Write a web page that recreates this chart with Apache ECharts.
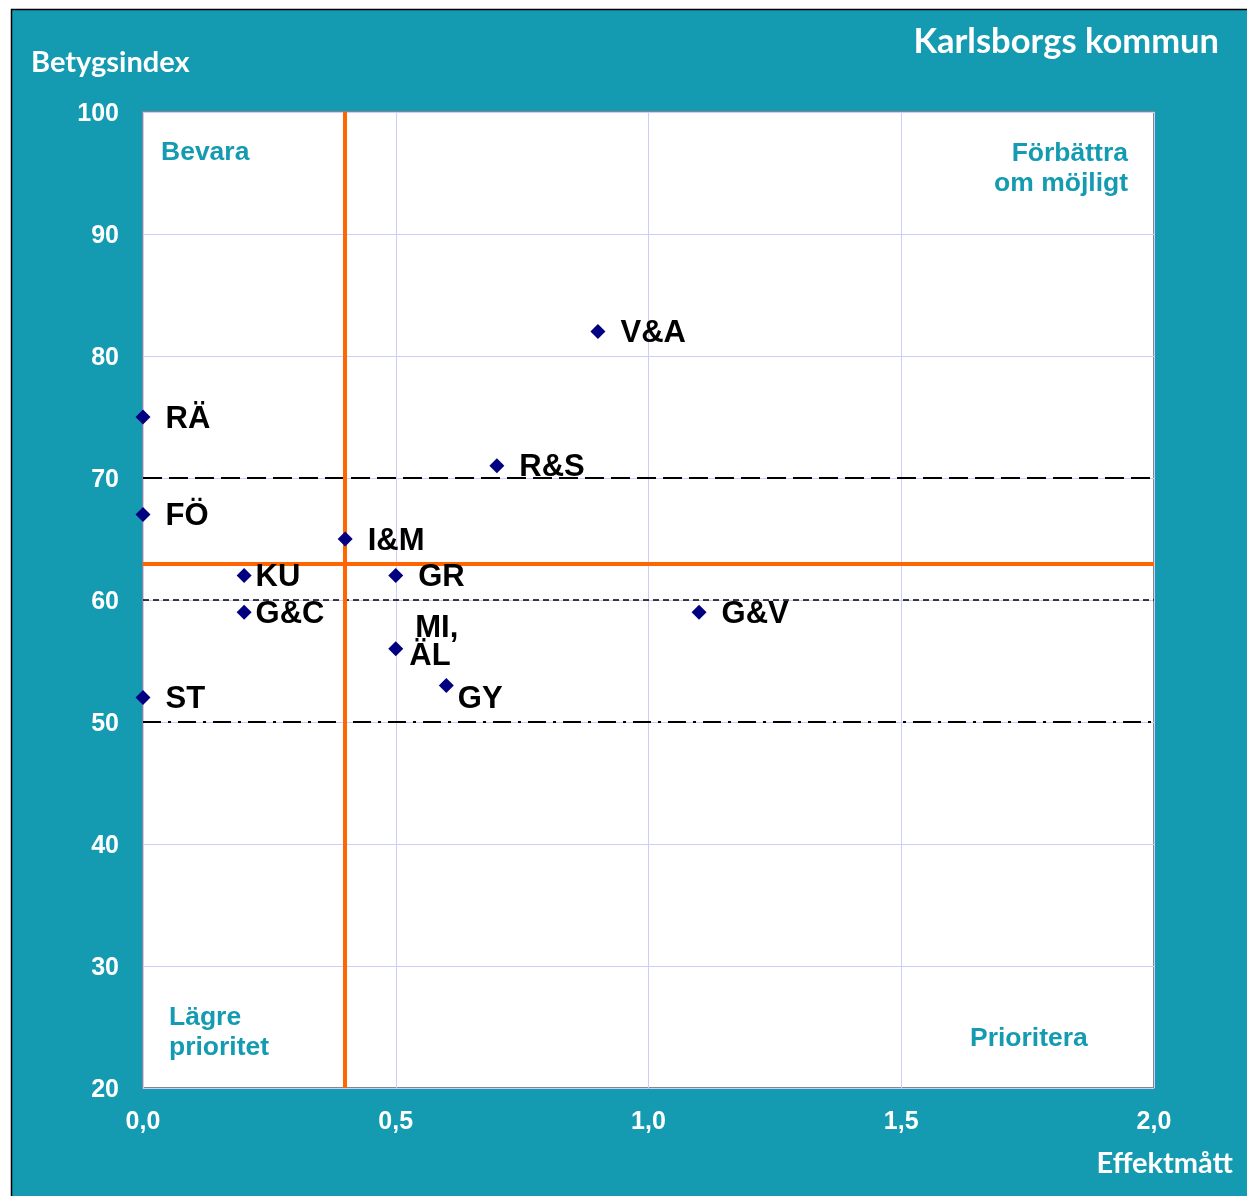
<!DOCTYPE html>
<html>
<head>
<meta charset="utf-8">
<script src="https://cdn.jsdelivr.net/npm/echarts@6/dist/echarts.min.js"></script>
<style>
html,body{margin:0;padding:0;background:#ffffff;}
#c{position:absolute;left:0;top:0;width:1247px;height:1196px;}
</style>
</head>
<body>
<div id="c"></div>
<script>
// ---- data ----
const names = ['RÄ','FÖ','ST','KU','G&C','I&M','GR','MI, ÄL','GY','R&S','V&A','G&V'];
const xValues = [0.0, 0.0, 0.0, 0.2, 0.2, 0.4, 0.5, 0.5, 0.6, 0.7, 0.9, 1.1];
const yValues = [75, 67, 52, 62, 59, 65, 62, 56, 53, 71, 82, 59];
const xTicks = [0, 0.5, 1.0, 1.5, 2.0];
const yTicks = [20, 30, 40, 50, 60, 70, 80, 90, 100];
const orangeX = 0.4;
const orangeY = 63;
const refLong = 70;
const refShort = 60;
const refDashDot = 50;
const titleText = 'Karlsborgs kommun';
const yAxisTitle = 'Betygsindex';
const xAxisTitle = 'Effektmått';
const quadrantTexts = ['Bevara', 'Förbättra', 'om möjligt', 'Lägre\nprioritet', 'Prioritera'];

// ---- style ----
const TEAL = '#149bb2';
const labelStyle = {}; // per-label tweaks
labelStyle['KU'] = {distance: 4};
labelStyle['G&C'] = {distance: 4};
labelStyle['GY'] = {distance: 4, offset: [0, 14]};
labelStyle['MI, ÄL'] = {distance: 6, offset: [0, -6],
  formatter: '{a|MI,}\n{b|ÄL}'};

const chart = echarts.init(document.getElementById('c'), null, {renderer: 'canvas'});

const pts = names.map((n, i) => {
  const ls = labelStyle[n] || {};
  const lab = {show: true, position: 'right', distance: ls.distance != null ? ls.distance : 15,
    formatter: ls.formatter || n, offset: ls.offset || [0, 2]};
  return {name: n, value: [xValues[i], yValues[i]], label: lab};
});

const labelFont = {fontFamily: 'Liberation Sans, Arial, sans-serif', fontWeight: 'bold', fontSize: 31, color: '#000'};
const qFont = 'bold 26.5px "Liberation Sans", Arial, sans-serif';
const tFont = '"Lato", "Open Sans", sans-serif';
const tickFont = {color: '#fff', fontFamily: 'Liberation Sans, Arial, sans-serif', fontWeight: 'bold', fontSize: 25};

const option = {
  animation: false,
  backgroundColor: '#ffffff',
  graphic: [
    {type: 'rect', z: -10, silent: true,
      shape: {x: 11.5, y: 9.5, width: 1250, height: 1200},
      style: {fill: TEAL, stroke: '#000', lineWidth: 1.5}},
    {type: 'text', left: 31, top: 48, z: 10,
      style: {text: yAxisTitle, fill: '#fff', font: 'bold 29px ' + tFont}},
    {type: 'text', right: 28, top: 24, z: 10,
      style: {text: titleText, fill: '#fff', font: 'bold 34.5px ' + tFont}},
    {type: 'text', right: 14, top: 1149, z: 10,
      style: {text: xAxisTitle, fill: '#fff', font: 'bold 29px ' + tFont}},
    {type: 'text', left: 161, top: 139, z: 10,
      style: {text: quadrantTexts[0], fill: TEAL, font: qFont}},
    {type: 'text', right: 1247 - 1128, top: 140, z: 10,
      style: {text: quadrantTexts[1], fill: TEAL, font: qFont}},
    {type: 'text', right: 1247 - 1128, top: 170, z: 10,
      style: {text: quadrantTexts[2], fill: TEAL, font: qFont}},
    {type: 'text', left: 169, top: 1003, z: 10,
      style: {text: quadrantTexts[3], fill: TEAL, lineHeight: 30, font: qFont}},
    {type: 'text', left: 970, top: 1025, z: 10,
      style: {text: quadrantTexts[4], fill: TEAL, font: qFont}}
  ],
  grid: {left: 143, top: 112, right: 93, bottom: 108, show: true,
    backgroundColor: '#ffffff', borderColor: '#868686', borderWidth: 2, containLabel: false},
  xAxis: {
    type: 'value', min: xTicks[0], max: xTicks[xTicks.length - 1], interval: 0.5,
    axisLine: {show: false}, axisTick: {show: false},
    splitLine: {show: true, lineStyle: {color: '#ccccff', width: 1}},
    axisLabel: Object.assign({}, tickFont, {
      margin: 22, formatter: v => v.toFixed(1).replace('.', ','), showMinLabel: true, showMaxLabel: true})
  },
  yAxis: {
    type: 'value', min: yTicks[0], max: yTicks[yTicks.length - 1], interval: 10,
    axisLine: {show: false}, axisTick: {show: false},
    splitLine: {show: true, lineStyle: {color: '#ccccff', width: 1}},
    axisLabel: Object.assign({}, tickFont, {
      margin: 24, showMinLabel: true, showMaxLabel: true,
      formatter: v => '{t|' + v + '}',
      rich: {t: Object.assign({}, tickFont, {padding: [4, 0, 0, 0]})}})
  },
  series: [
    {
      type: 'scatter', z: 2, silent: true, symbolSize: 0, data: [],
      markLine: {
        silent: true, symbol: 'none', animation: false, label: {show: false},
        data: [
          {yAxis: refLong, lineStyle: {color: '#000', width: 2, type: [19, 7], opacity: 1}},
          {yAxis: refShort, lineStyle: {color: '#000', width: 1.5, type: [6, 4], opacity: 1}},
          {yAxis: refDashDot, lineStyle: {color: '#000', width: 2, type: [18, 7, 3, 7], opacity: 1}}
        ]
      }
    },
    {
      type: 'scatter', z: 3, silent: true, symbolSize: 0, data: [],
      markLine: {
        silent: true, symbol: 'none', animation: false, label: {show: false},
        lineStyle: {color: '#ff6600', width: 4, type: 'solid', opacity: 1},
        data: [{xAxis: orangeX}, {yAxis: orangeY}]
      }
    },
    {
      type: 'scatter', z: 5, symbol: 'diamond', symbolSize: [15, 15], silent: true,
      itemStyle: {color: '#000080', opacity: 1},
      label: Object.assign({}, labelFont, {
        rich: {
          a: Object.assign({}, labelFont, {padding: [0, 0, 0, 6], lineHeight: 28}),
          b: Object.assign({}, labelFont, {lineHeight: 28})
        }
      }),
      data: pts
    }
  ]
};
chart.setOption(option);
</script>
</body>
</html>
